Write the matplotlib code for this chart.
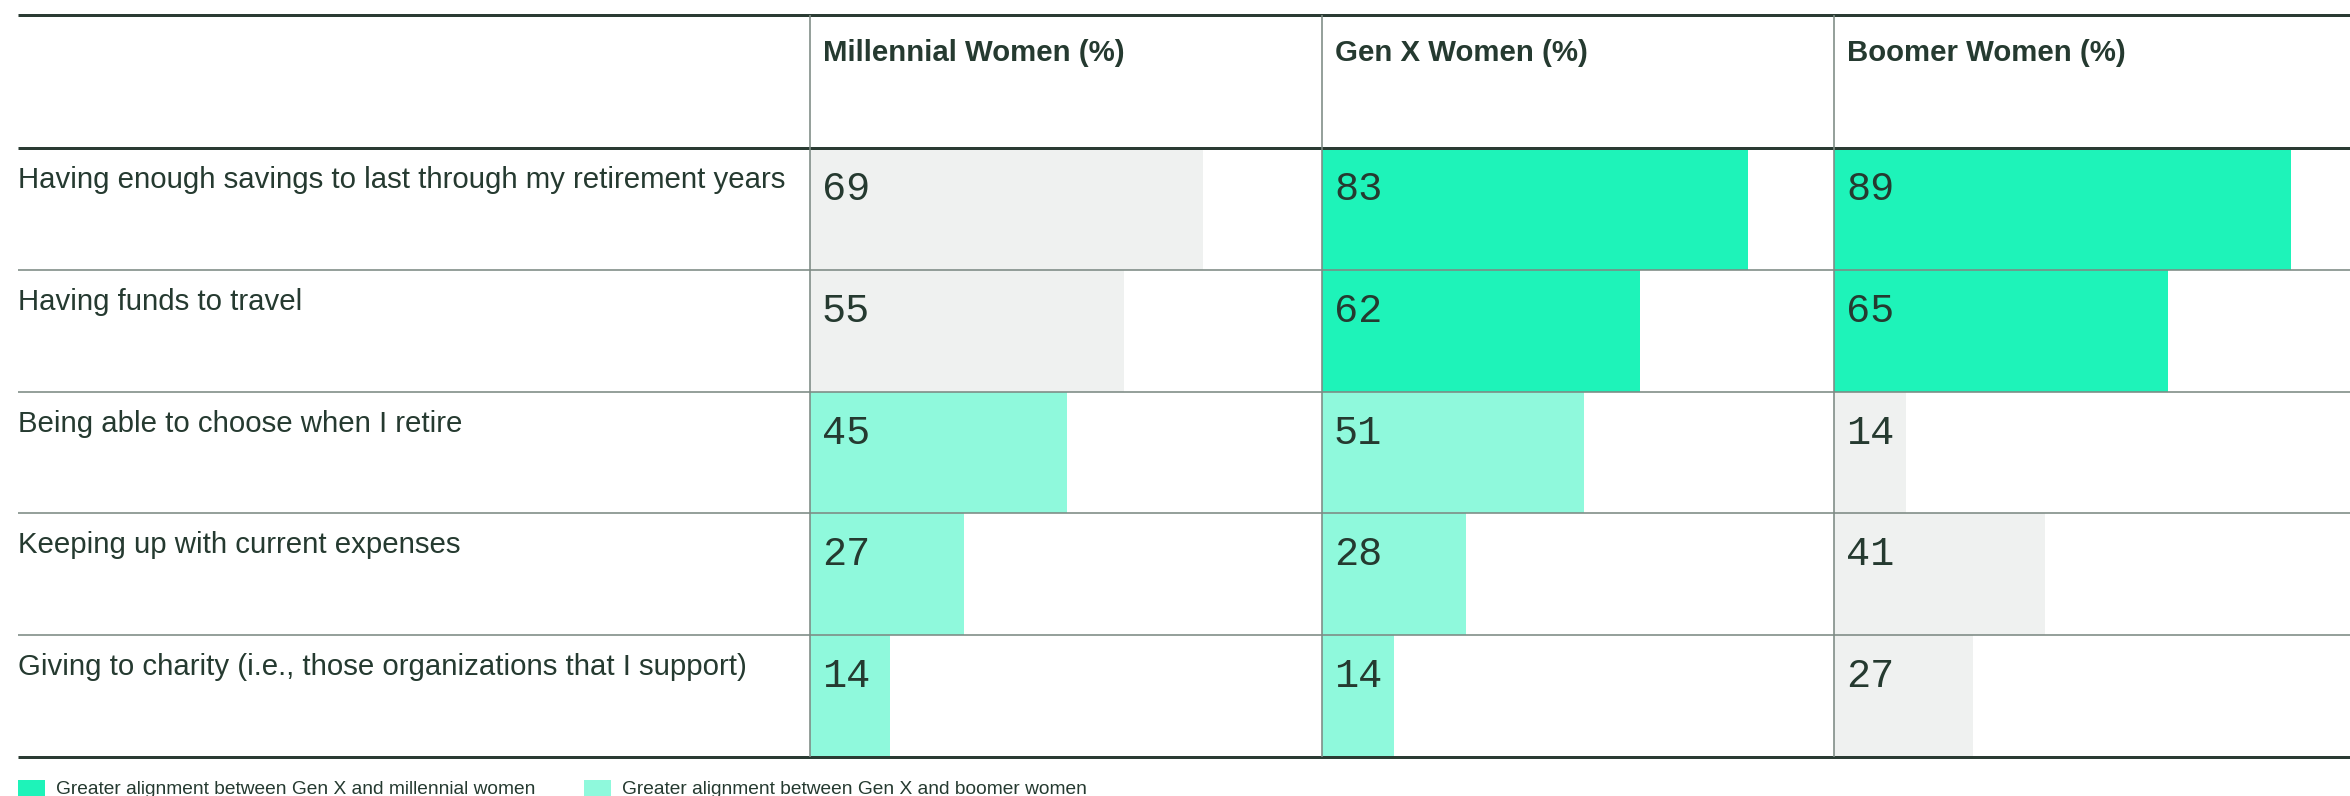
import matplotlib
matplotlib.use("Agg")
import matplotlib.pyplot as plt
from matplotlib.patches import Rectangle
from matplotlib.transforms import offset_copy

# --- data ---------------------------------------------------------------
statements = [
    "Having enough savings to last through my retirement years",
    "Having funds to travel",
    "Being able to choose when I retire",
    "Keeping up with current expenses",
    "Giving to charity (i.e., those organizations that I support)",
]
columns = ["Millennial Women (%)", "Gen X Women (%)", "Boomer Women (%)"]
millennial = [69, 55, 45, 27, 14]
gen_x = [83, 62, 51, 28, 14]
boomer = [89, 65, 14, 41, 27]
# which alignment group each cell belongs to (row x column)
groups = [
    ["none", "millennial", "millennial"],
    ["none", "millennial", "millennial"],
    ["boomer", "boomer", "none"],
    ["boomer", "boomer", "none"],
    ["boomer", "boomer", "none"],
]
legend_labels = [
    "Greater alignment between Gen X and millennial women",
    "Greater alignment between Gen X and boomer women",
]

# --- style ----------------------------------------------------------------
W, H, DPI = 2350, 796, 100
INK = "#253a30"
RULE = "#2a3b33"
GRID = "#7d8a84"
fills = {"none": "#eff1f0", "millennial": "#1ef3b9", "boomer": "#8ff9dc"}
SANS = ["Liberation Sans", "DejaVu Sans"]
MONO = ["Liberation Mono", "DejaVu Sans Mono"]

col_left = [810, 1322, 1834]
col_w = 512
col_max = [89.8, 99.7, 99.7]
top, head, bottom = 15, 148, 757
row_h = (bottom - head) / len(statements)
px = 72 / DPI


def fig_rect(x0, y0, w, h):
    return [x0 / W, 1 - (y0 + h) / H, w / W, h / H]


fig = plt.figure(figsize=(W / DPI, H / DPI), dpi=DPI)

series = [millennial, gen_x, boomer]
for j, vals in enumerate(series):
    ax = fig.add_axes(fig_rect(col_left[j], head, col_w, bottom - head))
    ax.set_xlim(0, col_max[j])
    ax.set_ylim(len(vals), 0)
    ax.axis("off")
    colors = [fills[groups[i][j]] for i in range(len(vals))]
    ax.barh(range(len(vals)), vals, height=1, align="edge", color=colors, linewidth=0)
    tr = offset_copy(ax.transData, fig=fig, x=12, y=-52, units="dots")
    for i, v in enumerate(vals):
        ax.text(0, i, str(v), transform=tr, ha="left", va="baseline",
                fontsize=29, family=MONO, color=INK)

# frame, rules, labels
fr = fig.add_axes([0, 0, 1, 1], zorder=5)
fr.set_xlim(0, W)
fr.set_ylim(H, 0)
fr.axis("off")
fr.patch.set_visible(False)

for y in [top, head, bottom]:
    fr.plot([18, W], [y, y], color=RULE, lw=3 * px, solid_capstyle="butt")
for i in range(1, len(statements)):
    y = head + i * row_h
    fr.plot([18, W], [y, y], color=GRID, lw=1.6 * px, solid_capstyle="butt")
for x in col_left:
    fr.plot([x, x], [top, bottom], color=GRID, lw=1.6 * px, solid_capstyle="butt")

for j, name in enumerate(columns):
    fr.text(col_left[j] + 13, 61, name, ha="left", va="baseline",
            fontsize=21.2, fontweight="bold", family=SANS, color=INK)

for i, s in enumerate(statements):
    fr.text(18, head + i * row_h + 40, s, ha="left", va="baseline",
            fontsize=21.2, family=SANS, color=INK)

# legend
for (x, key, lab) in [(18, "millennial", legend_labels[0]), (584, "boomer", legend_labels[1])]:
    fr.add_patch(Rectangle((x, 780), 27, 27, color=fills[key], lw=0))
    fr.text(x + 38, 794, lab, ha="left", va="baseline",
            fontsize=13.8, family=SANS, color=INK)

fig.savefig("out.png", dpi=DPI)
